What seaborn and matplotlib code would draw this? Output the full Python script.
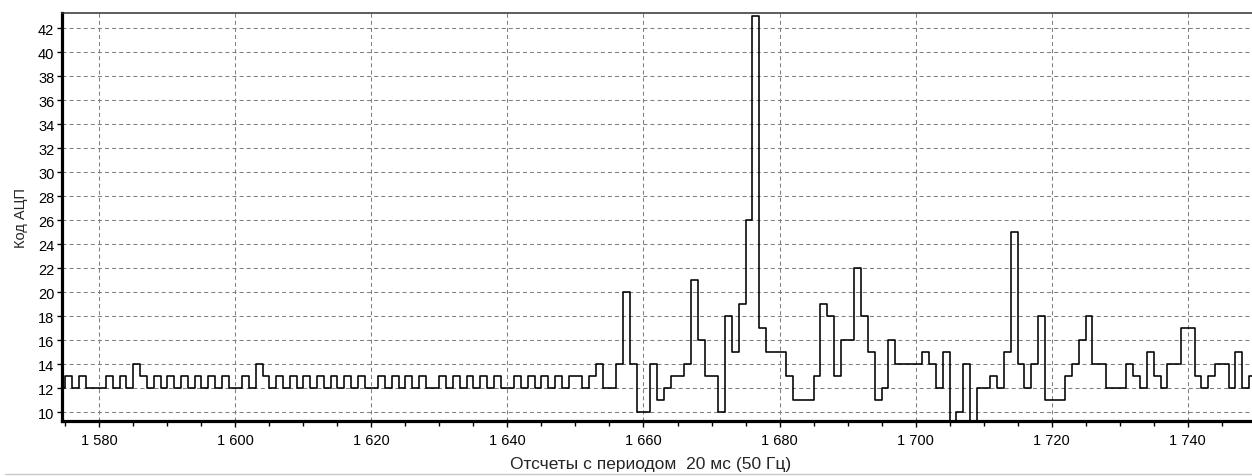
import matplotlib
matplotlib.use("Agg")
import matplotlib.pyplot as plt
from matplotlib.ticker import MultipleLocator, FuncFormatter
from matplotlib.lines import Line2D
import seaborn as sns
import pandas as pd

# ---- data ----
first_sample = 1574
adc_code = [
    12, 13, 12, 13, 12, 12, 12, 13, 12, 13,   # 1574-1583
    12, 14, 13, 12, 13, 12, 13, 12, 13, 12,   # 1584-1593
    13, 12, 13, 12, 13, 12, 12, 13, 12, 14,   # 1594-1603
    13, 12, 13, 12, 13, 12, 13, 12, 13, 12,   # 1604-1613
    13, 12, 13, 12, 13, 12, 12, 13, 12, 13,   # 1614-1623
    12, 13, 12, 13, 12, 12, 13, 12, 13, 12,   # 1624-1633
    13, 12, 13, 12, 13, 12, 12, 13, 12, 13,   # 1634-1643
    12, 13, 12, 13, 12, 13, 13, 12, 13, 14,   # 1644-1653
    12, 12, 14, 20, 14, 10, 10, 14, 11, 12,   # 1654-1663
    13, 13, 14, 21, 16, 13, 13, 10, 18, 15,   # 1664-1673
    19, 26, 43, 17, 15, 15, 15, 13, 11, 11,   # 1674-1683
    11, 13, 19, 18, 13, 16, 16, 22, 18, 15,   # 1684-1693
    11, 12, 16, 14, 14, 14, 14, 15, 14, 12,   # 1694-1703
    15, 9, 10, 14, 9, 12, 12, 13, 12, 15,     # 1704-1713
    25, 14, 12, 14, 18, 11, 11, 11, 13, 14,   # 1714-1723
    16, 18, 14, 14, 12, 12, 12, 14, 13, 12,   # 1724-1733
    15, 13, 12, 14, 14, 17, 17, 13, 12, 13,   # 1734-1743
    14, 14, 12, 15, 12, 13,                   # 1744-1749
]
samples = list(range(first_sample, first_sample + len(adc_code)))

x_label = "Отсчеты с периодом  20 мс (50 Гц)"
y_label = "Код АЦП"

# step drawing: each sample holds its value for one period
plot_x = samples + [samples[-1] + 1]
plot_y = adc_code + [adc_code[-1]]
df = pd.DataFrame({"sample": plot_x, "code": plot_y})

# ---- style ----
sns.set_theme(style="white")
plt.rcParams['font.family'] = ['Liberation Sans', 'DejaVu Sans']
plt.rcParams['lines.scale_dashes'] = False

W, H = 1252, 477
fig = plt.figure(figsize=(W / 100, H / 100), dpi=100)
left, right, top, bottom = 62, 1252, 14, 422.3
ax = fig.add_axes([left / W, 1 - bottom / H, (right - left) / W, (bottom - top) / H])

sns.lineplot(data=df, x="sample", y="code", drawstyle="steps-post",
             color="black", linewidth=1.15, estimator=None, sort=False,
             ax=ax, zorder=3)

ax.set_xlim(1574.52, 1749.45)
ax.set_ylim(9.25, 43.27)

ax.xaxis.set_major_locator(MultipleLocator(20))
ax.xaxis.set_minor_locator(MultipleLocator(5))
ax.yaxis.set_major_locator(MultipleLocator(2))
ax.xaxis.set_major_formatter(FuncFormatter(lambda v, p: f"{int(round(v)):,}".replace(",", " ")))
ax.yaxis.set_major_formatter(FuncFormatter(lambda v, p: f"{int(round(v))}"))

ax.grid(True, which="major", color="#808080", linestyle=(0, (2.9, 2.2)), linewidth=0.75)
ax.set_axisbelow(True)

ax.tick_params(axis="both", which="both", direction="out", colors="black",
               labelsize=10.5, width=1.0)
ax.tick_params(axis="x", which="major", bottom=True, length=4.5, pad=4)
ax.tick_params(axis="x", which="minor", bottom=True, length=3.5)
ax.tick_params(axis="y", which="major", left=True, length=3.5, pad=2)

for s in ("left", "bottom"):
    ax.spines[s].set_linewidth(2.3)
    ax.spines[s].set_color("black")
ax.spines["top"].set_linewidth(1.1)
ax.spines["top"].set_color("#303030")
ax.spines["right"].set_visible(False)

ax.set_xlabel(x_label, fontsize=12.5, labelpad=2)
ax.xaxis.set_label_coords((651 - left) / (right - left), -0.086)
ax.set_ylabel(y_label, fontsize=10.5, labelpad=7)

fig.add_artist(Line2D([5 / W, 1.0], [1 - 475 / H] * 2, color="#c8c8c8", linewidth=1.0))

fig.savefig("out.png", dpi=100, facecolor="white")
